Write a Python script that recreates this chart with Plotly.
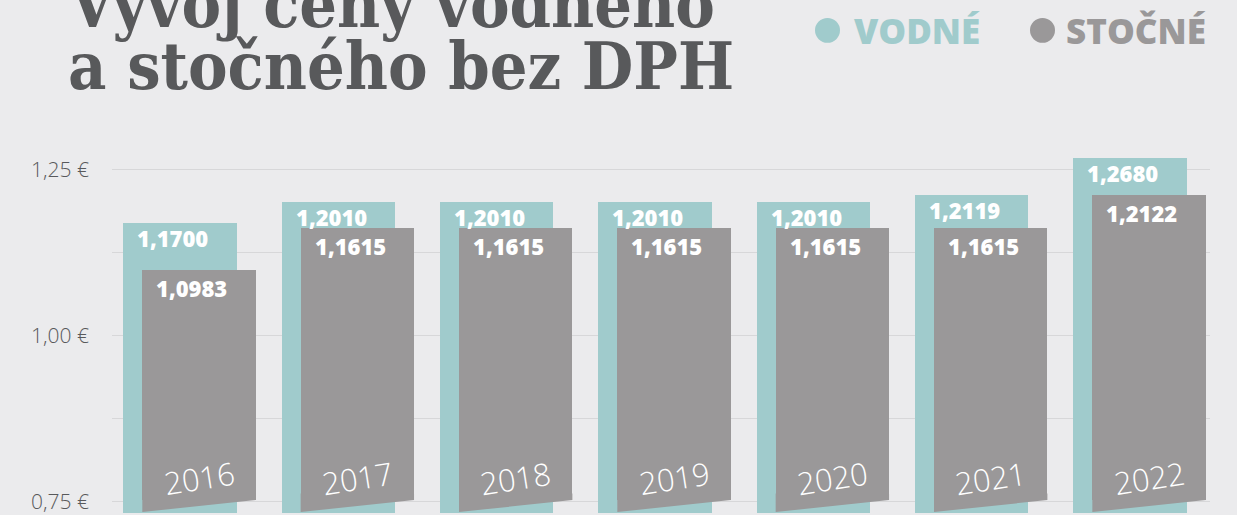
import plotly.graph_objects as go

# ---------------- data ----------------
years = ["2016", "2017", "2018", "2019", "2020", "2021", "2022"]
vodne = [1.1700, 1.2010, 1.2010, 1.2010, 1.2010, 1.2119, 1.2680]
stocne = [1.0983, 1.1615, 1.1615, 1.1615, 1.1615, 1.1615, 1.2122]
ytick_vals = [0.75, 0.875, 1.0, 1.125, 1.25]
ytick_text = ["0,75 €", "", "1,00 €", "", "1,25 €"]
title_lines = ["Vývoj ceny vodného", "a stočného bez DPH"]
legend_names = ["VODNÉ", "STOČNÉ"]

# ---------------- style ----------------
TEAL = "#a0cbcc"
GRAY = "#9a9899"
BG = "#ebebed"
DARK = "#58595b"
GRID = "#d7d7d9"
SANS = "Open Sans"
SERIF = "DejaVu Serif Condensed, DejaVu Serif"

W = 0.716
OFF_V = -0.418
OFF_S = -0.298
Y_MIN, Y_MAX = 0.7325, 1.355
BASE = 0.70
SLANT_R, SLANT_L = 0.752, 0.734

W_PX, H_PX = 1237, 515
M_L, M_R, M_T, M_B = 112, 27, 100, 0
PW = W_PX - M_L - M_R
PH = H_PX - M_T - M_B


def px_x(p):
    return (p - M_L) / PW


def px_y(p):
    return (H_PX - M_B - p) / PH


def fmt(v):
    return f"{v:.4f}".replace(".", ",")


idx = list(range(len(years)))

fig = go.Figure()

fig.add_trace(go.Bar(
    x=idx, y=[v - BASE for v in vodne], base=BASE,
    width=W, offset=OFF_V,
    marker=dict(color=TEAL, line=dict(width=0)),
    name=legend_names[0], showlegend=False, hoverinfo="skip",
))

fig.add_trace(go.Bar(
    x=idx, y=[v - SLANT_R for v in stocne], base=SLANT_R,
    width=W, offset=OFF_S,
    marker=dict(color=GRAY, line=dict(width=0)),
    name=legend_names[1], showlegend=False, hoverinfo="skip",
))

# slanted bottoms of the grey bars
tx, ty = [], []
for i in idx:
    xl = i + OFF_S
    xr = xl + W
    tx += [xl, xr, xr, xl, xl, None]
    ty += [SLANT_R + 0.01, SLANT_R + 0.01, SLANT_R, SLANT_L, SLANT_R + 0.01, None]
fig.add_trace(go.Scatter(
    x=tx, y=ty, mode="lines", fill="toself", fillcolor=GRAY,
    line=dict(width=0, color=GRAY), showlegend=False, hoverinfo="skip",
))

ann = []
for i, (y, v, s) in enumerate(zip(years, vodne, stocne)):
    ann.append(dict(x=i + OFF_V, y=v, xref="x", yref="y", text=fmt(v),
                    xanchor="left", yanchor="middle", xshift=12, yshift=-15,
                    showarrow=False,
                    font=dict(family=SANS, size=22, color="white", weight=800)))
    ann.append(dict(x=i + OFF_S, y=s, xref="x", yref="y", text=fmt(s),
                    xanchor="left", yanchor="middle", xshift=12, yshift=-18,
                    showarrow=False,
                    font=dict(family=SANS, size=22, color="white", weight=800)))
    ann.append(dict(x=i + OFF_S + W / 2, y=px_y(480), xref="x", yref="paper",
                    text=y, textangle=-9, xanchor="center", yanchor="middle",
                    showarrow=False,
                    font=dict(family=SANS, size=31, color="white", weight=300)))

# title
for line, cy in zip(title_lines, [4, 66]):
    ann.append(dict(x=px_x(66), y=px_y(cy), xref="paper", yref="paper",
                    text=line, xanchor="left", yanchor="middle", showarrow=False,
                    font=dict(family=SERIF, size=66, color=DARK, weight=700)))

# legend
shapes = []
for name, col, cx, tx0 in zip(legend_names, [TEAL, GRAY], [827.5, 1042.5], [852, 1064]):
    shapes.append(dict(type="circle", xref="paper", yref="paper",
                       x0=px_x(cx - 12.5), x1=px_x(cx + 12.5),
                       y0=px_y(30 + 12.5), y1=px_y(30 - 12.5),
                       fillcolor=col, line=dict(width=0)))
    ann.append(dict(x=px_x(tx0), y=px_y(30.5), xref="paper", yref="paper",
                    text=name, xanchor="left", yanchor="middle", showarrow=False,
                    font=dict(family=SANS, size=35, color=col, weight=800)))

fig.update_layout(
    width=W_PX, height=H_PX, autosize=False,
    margin=dict(l=M_L, r=M_R, t=M_T, b=M_B, pad=0),
    paper_bgcolor=BG, plot_bgcolor=BG,
    barmode="overlay", bargap=0,
    xaxis=dict(range=[-0.4895, 6.445], showgrid=False, zeroline=False,
               showticklabels=False, fixedrange=True, showline=False),
    yaxis=dict(range=[Y_MIN, Y_MAX], tickvals=ytick_vals, ticktext=ytick_text,
               showgrid=True, gridcolor=GRID, gridwidth=1.5, zeroline=False,
               showline=False, ticks="", ticklabelstandoff=22, fixedrange=True,
               ticklabeloverflow="allow",
               tickfont=dict(family=SANS, size=21, color=DARK, weight=300)),
    annotations=ann, shapes=shapes,
    showlegend=False,
)

fig.write_html(
    "out.html",
    config={"displayModeBar": False, "staticPlot": True},
    post_script=(
        "document.body.style.margin='0';"
        "document.body.style.overflow='hidden';"
        "document.body.style.background='" + BG + "';"
    ),
)
